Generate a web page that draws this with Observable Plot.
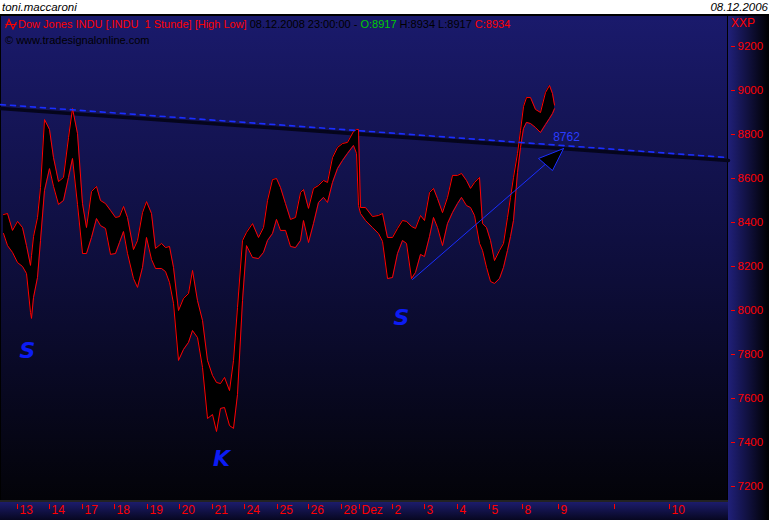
<!DOCTYPE html>
<html><head><meta charset="utf-8">
<script src="https://cdn.jsdelivr.net/npm/d3@7/dist/d3.min.js"></script>
<script src="https://cdn.jsdelivr.net/npm/@observablehq/plot@0.6/dist/plot.umd.min.js"></script>
<style>
body{margin:0;background:#fff;}
#wrap{position:relative;width:769px;height:520px;overflow:hidden;background:#fff;font-family:"Liberation Sans",Arial,sans-serif;}
#wrap .p{position:absolute;white-space:pre;}
#wrap > svg{position:absolute;left:0;top:0;}
#err{position:absolute;left:20px;top:200px;color:#fff;font-size:12px;white-space:pre-wrap;width:700px;}
</style></head><body>
<div id="wrap">
  <div class="p" style="left:0;top:14px;width:769px;height:2px;background:#000"></div>
  <div class="p" style="left:0;top:16px;width:727px;height:485px;background:linear-gradient(#1a1a6c,#151558 20%,#0d0d38 55%,#030308)"></div>
  <div class="p" style="left:0;top:16px;width:1px;height:486px;background:#000"></div>
  <div class="p" style="left:727px;top:16px;width:1px;height:486px;background:#000"></div>
  <div class="p" style="left:728px;top:16px;width:41px;height:504px;background:linear-gradient(to right,#20207a,#000)"></div>
  <div class="p" style="left:0;top:500px;width:728px;height:2px;background:#222"></div>
  <div class="p" style="left:0;top:502px;width:728px;height:18px;background:linear-gradient(#1c1c6c,#070720)"></div>
  <div class="p" style="left:2px;top:1px;font-style:italic;font-size:11.5px;line-height:13px;color:#000">toni.maccaroni</div>
  <div class="p" style="right:1px;top:1px;font-style:italic;font-size:11.5px;line-height:13px;color:#000">08.12.2006</div>
  <div class="p" style="left:5px;top:18px;font-size:11px;line-height:13px;color:#000"><svg width="12" height="12" style="vertical-align:-2px;margin-right:1px"><path d="M0.5,6.5 H11.5 M0.5,10 L4,1.5 L8,11 L11.5,4" fill="none" stroke="#f00" stroke-width="1.2"/></svg><span style="color:#f00">Dow Jones INDU [.INDU  1 Stunde] [High Low]</span> 08.12.2008 23:00:00 - <span style="color:#0c0">O:8917</span> H:8934 L:8917 <span style="color:#f00">C:8934</span></div>
  <div class="p" style="left:5px;top:34px;font-size:11px;line-height:13px;color:#000">© www.tradesignalonline.com</div>
  <div class="p" style="left:731px;top:17px;font-size:12px;line-height:13px;color:#f00">XXP</div>
  <div id="err"></div>
</div>
<script>
// hourly bar position (sample index), session high and low
const bar = [0,0.8,1.8,2.8,3.8,4.6,5.4,5.6,6,6.8,
 7.4,8.2,9.2,10,11,12,13,13.8,14.8,15.8,
 16.6,17.6,18.6,19.4,20.4,21.4,22.4,23.2,24,24.8,
 26,26.8,27.8,28.6,29.6,30.4,31.6,32.4,33.2,34,
 35,36,37,37.8,38.8,39.8,40.8,41.8,42.6,43.4,
 44.2,45.2,46,46.8,47.8,48.6,49.8,51,52,52.8,
 53.8,54.6,55.4,56.4,57.4,58.4,59.4,60,61,62,
 63,64,64.8,65.8,66.8,67.8,68.8,70,70.6,71,
 71.4,72.4,73.8,75,75.8,76.8,77.8,78.8,79.8,80.6,
 81.6,82.4,83.4,84.2,85.2,86,86.8,87.8,88.8,89.8,
 90.8,91.6,92.6,93.4,94.2,95.2,95.8,96.6,97.4,98.2,
 99.2,100,100.8,101.4,102,102.8,103.4,104,104.6,105.4,
 106.4,107.4,108.4,109.2,109.8,110.2];
const high = [8436,8441,8364,8405,8377,8295,8205,8250,8336,8423,
 8559,8868,8823,8695,8586,8605,8786,8918,8805,8486,
 8377,8541,8564,8500,8486,8455,8423,8427,8473,8423,
 8277,8318,8445,8495,8441,8282,8305,8286,8291,8196,
 8000,8055,8077,8182,8045,7955,7773,7705,7673,7668,
 7696,7636,7773,8014,8318,8355,8395,8332,8377,8500,
 8595,8600,8559,8486,8414,8423,8536,8550,8464,8555,
 8568,8591,8582,8695,8741,8759,8764,8814,8823,8823,
 8468,8468,8427,8432,8441,8332,8332,8373,8409,8405,
 8382,8373,8432,8409,8536,8555,8509,8445,8514,8614,
 8614,8623,8591,8555,8582,8605,8395,8377,8318,8227,
 8273,8305,8423,8514,8605,8714,8818,8927,8968,8968,
 8914,8900,8991,9023,8986,8934];
const low = [8350,8295,8264,8218,8200,8168,7991,7964,8059,8150,
 8318,8545,8645,8564,8482,8500,8605,8691,8482,8259,
 8259,8332,8418,8386,8373,8255,8259,8309,8359,8259,
 8145,8105,8196,8332,8232,8191,8191,8177,8127,8032,
 7773,7823,7855,7909,7877,7741,7509,7527,7450,7555,
 7559,7477,7464,7618,8045,8295,8241,8236,8264,8318,
 8350,8414,8364,8364,8291,8286,8318,8409,8309,8395,
 8491,8514,8491,8582,8645,8682,8714,8750,8714,8477,
 8441,8409,8377,8350,8314,8145,8150,8259,8318,8305,
 8145,8173,8255,8245,8336,8423,8377,8295,8395,8445,
 8486,8514,8477,8468,8432,8305,8273,8196,8132,8123,
 8145,8196,8273,8336,8409,8627,8741,8827,8855,8850,
 8832,8809,8845,8873,8895,8917];

// x-axis (day) ticks
const xTickPos = [2.8,9.2,15.8,22.2,28.8,35.2,41.8,48.2,54.8,61,67.6,71.2,77.8,84.2,90.8,97.2,103.8,111,122.2,133.2];
const xTickLabels = ["13","14","17","18","19","20","21","24","25","26","28","Dez","2","3","4","5","8","9","","10"];
const yTicks = [7200,7400,7600,7800,8000,8200,8400,8600,8800,9000,9200];

// drawn trend lines
const resistBar = [-0.6, 145];
const resistVal = [8936, 8695];
const shadowVal = [8918, 8682];
const upBar = [81.8, 112];
const upVal = [8141, 8736];
const headBar = [112, 107, 109.8, 112];
const headVal = [8736, 8691, 8636, 8736];
const priceLabel = ["8762"];
const priceLabelBar = [112.6];
const priceLabelVal = [8786];

// hand-written annotations
const noteText = ["S", "S", "K"];
const noteBar = [4.8, 79.6, 43.6];
const noteVal = [7818, 7964, 7323];

try {
const data = bar.map((b, i) => ({b, high: high[i], low: low[i]}));
const resist = resistBar.map((b, i) => ({b, v: resistVal[i]}));
const shadow = resistBar.map((b, i) => ({b, v: shadowVal[i]}));
const up = upBar.map((b, i) => ({b, v: upVal[i]}));
const head = headBar.map((b, i) => ({b, v: headVal[i]}));
const notes = noteText.map((t, i) => ({t, b: noteBar[i], v: noteVal[i]}));
const lbl = priceLabel.map((t, i) => ({t, b: priceLabelBar[i], v: priceLabelVal[i]}));

const chart = Plot.plot({
  width: 769, height: 520,
  marginTop: 46, marginBottom: 34, marginLeft: 0, marginRight: 41,
  x: {domain: [-0.6, 145], label: null},
  y: {domain: [7200, 9200], label: null},
  style: {background: "transparent", overflow: "visible", fontFamily: "'Liberation Sans', Arial, sans-serif", fontSize: "11px", color: "#ff0000"},
  marks: [
    Plot.line(shadow, {x: "b", y: "v", stroke: "#05051c", strokeWidth: 3.5}),
    Plot.areaY(data, {x: "b", y1: "low", y2: "high", fill: "#000"}),
    Plot.line(data, {x: "b", y: "high", stroke: "#ff0000", strokeWidth: 1}),
    Plot.line(data, {x: "b", y: "low", stroke: "#ff0000", strokeWidth: 1}),
    Plot.line(resist, {x: "b", y: "v", stroke: "#1a2eff", strokeWidth: 1.6, strokeDasharray: "5,5"}),
    Plot.line(up, {x: "b", y: "v", stroke: "#1a2eff", strokeWidth: 1}),
    Plot.line(head, {x: "b", y: "v", stroke: "#1a2eff", fill: "#000", strokeWidth: 1}),
    Plot.text(lbl, {x: "b", y: "v", text: "t", fill: "#2a3cff", fontSize: 12}),
    Plot.text(notes, {x: "b", y: "v", text: "t", fill: "#0c1cf5", fontSize: 22, fontWeight: "bold", fontStyle: "italic", fontFamily: "DejaVu Sans"}),
    Plot.axisY(yTicks, {anchor: "right", tickSize: 4, tickPadding: 3, dx: 2, stroke: "#ff0000", fill: "#ff0000", fontSize: 11.5, tickFormat: d => String(d)}),
    Plot.axisX(xTickPos, {anchor: "bottom", tickSize: 5, dy: 18, tickFormat: () => "", stroke: "#ff0000"}),
    Plot.text(xTickPos, {x: d => d, text: (d, i) => xTickLabels[i], frameAnchor: "bottom", dy: 27, dx: 2, textAnchor: "start", fill: "#ff0000", fontSize: 12})
  ]
});
document.getElementById("wrap").appendChild(chart);
} catch (e) {
  document.getElementById("err").textContent = String(e && e.stack || e);
}
</script>
</body></html>
